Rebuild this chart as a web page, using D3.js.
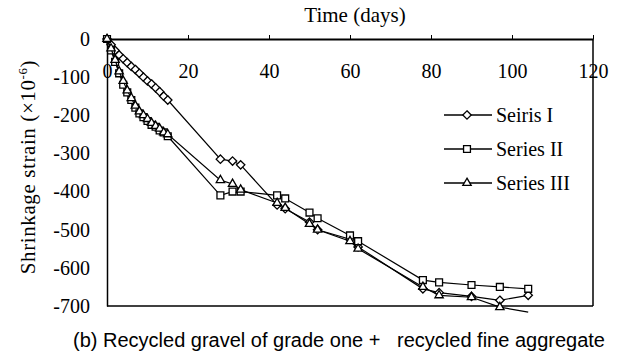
<!DOCTYPE html>
<html>
<head>
<meta charset="utf-8">
<script src="https://cdn.jsdelivr.net/npm/d3@7"></script>
<style>
  body { margin: 0; background: #fff; }
  .axis text { font-family: 'Liberation Serif', 'Times New Roman', serif; font-size: 20px; fill: #000; }
</style>
</head>
<body>
<div id="chart"></div>
<script>
const seriesNames = ['Seiris I', 'Series II', 'Series III'];
const markerTypes = ['diamond', 'square', 'triangle'];

const daysEarly = [0, 1, 2, 3, 4, 5, 6, 7, 8, 9, 10, 11, 12, 13, 14, 15];
const daysLate = [28, 31, 33, 42, 44, 50, 52, 60, 62, 78, 82, 90, 97, 104];

const series1 = [0, -15, -30, -42, -52, -62, -72, -80, -90, -100, -110, -118, -128, -138, -150, -160,
  -315, -320, -330, -435, -445, -480, -500, -525, -545, -655, -665, -675, -685, -672];
const series2 = [0, -30, -60, -90, -120, -140, -160, -180, -195, -205, -215, -225, -230, -240, -245, -255,
  -410, -400, -400, -410, -418, -455, -470, -515, -530, -632, -638, -645, -650, -655];
const series3 = [0, -25, -55, -85, -110, -135, -155, -175, -190, -200, -210, -220, -228, -235, -245, -250,
  -370, -380, -395, -430, -443, -485, -500, -530, -550, -650, -672, -677, -703, -716];

const xTicks = [0, 20, 40, 60, 80, 100, 120];
const yTicks = [0, -100, -200, -300, -400, -500, -600, -700];

const days = daysEarly.concat(daysLate);
const allSeries = [series1, series2, series3];

const dimensions = { width: 623, height: 356, left: 107, right: 593, top: 39, bottom: 306 };

const svg = d3.select('#chart').append('svg').attr('width', dimensions.width).attr('height', dimensions.height);

const xScale = d3.scaleLinear().domain([0, 120]).range([dimensions.left, dimensions.right]);
const yScale = d3.scaleLinear().domain([-700, 0]).range([dimensions.bottom, dimensions.top]);

// frame
svg.append('line').attr('x1', dimensions.right).attr('x2', dimensions.right)
  .attr('y1', dimensions.top).attr('y2', dimensions.bottom).attr('stroke', '#000').attr('stroke-width', 1.5);
svg.append('line').attr('x1', dimensions.left).attr('x2', dimensions.right)
  .attr('y1', dimensions.bottom).attr('y2', dimensions.bottom).attr('stroke', '#000').attr('stroke-width', 1.5);

// y axis
const yAxis = d3.axisLeft(yScale).tickValues(yTicks).tickSize(0).tickPadding(17).tickFormat((d) => d3.format('d')(d).replace('−', '-'));
const yAxisGroup = svg.append('g').attr('transform', `translate(${dimensions.left},0)`).call(yAxis).classed('axis', true);
yAxisGroup.select('.domain').attr('stroke-width', 1.5);

// x axis along the top, labels sit inside the plot
const xAxis = d3.axisTop(xScale).tickValues(xTicks).tickSizeInner(4).tickSizeOuter(0);
const xAxisGroup = svg.append('g').attr('transform', `translate(0,${dimensions.top})`).call(xAxis).classed('axis', true);
xAxisGroup.select('.domain').attr('stroke-width', 2);
xAxisGroup.selectAll('.tick line').attr('stroke-width', 1);
xAxisGroup.selectAll('.tick text').attr('y', 39).attr('dy', 0);

svg.append('text')
  .attr('x', 355).attr('y', 22)
  .attr('text-anchor', 'middle')
  .style('font-family', "'Liberation Serif', serif").style('font-size', '21px')
  .text('Time (days)');

svg.append('text')
  .attr('transform', 'translate(35,167) rotate(-90)')
  .attr('text-anchor', 'middle')
  .style('font-family', "'Liberation Serif', serif").style('font-size', '21px').style('letter-spacing', '0.6px')
  .html('Shrinkage strain (×10<tspan dy="-8" font-size="13">-6</tspan><tspan dy="8">)</tspan>');

svg.append('text')
  .attr('x', 339).attr('y', 347)
  .attr('text-anchor', 'middle')
  .style('font-family', "'Liberation Sans', Arial, sans-serif").style('font-size', '20px')
  .attr('xml:space', 'preserve')
  .text('(b) Recycled gravel of grade one +   recycled fine aggregate');

const markerPath = {
  diamond: d3.symbol().type(d3.symbolDiamond2).size(45),
  square: d3.symbol().type(d3.symbolSquare2).size(60),
  triangle: d3.symbol().type(d3.symbolTriangle2).size(50),
};

const line = d3.line().x((d) => xScale(d[0])).y((d) => yScale(d[1]));

allSeries.forEach((values, i) => {
  const points = days.map((t, j) => [t, values[j]]);
  svg.append('path').datum(points).attr('d', line).attr('fill', 'none').attr('stroke', '#000').attr('stroke-width', 1.2);
  svg.append('g').selectAll('path')
    .data(points.filter((d) => d[1] >= -705))
    .join('path')
    .attr('d', markerPath[markerTypes[i]]())
    .attr('transform', (d) => `translate(${xScale(d[0])},${yScale(d[1])})`)
    .attr('fill', '#fff')
    .attr('stroke', '#000')
    .attr('stroke-width', 1.3);
});

// legend
const legend = svg.append('g');
seriesNames.forEach((name, i) => {
  const y = 115 + i * 34;
  legend.append('line').attr('x1', 444).attr('x2', 492).attr('y1', y).attr('y2', y).attr('stroke', '#000').attr('stroke-width', 1.3);
  legend.append('path').attr('d', markerPath[markerTypes[i]]()).attr('transform', `translate(467,${y})`)
    .attr('fill', '#fff').attr('stroke', '#000').attr('stroke-width', 1.3);
  legend.append('text').attr('x', 496).attr('y', y + 7)
    .style('font-family', "'Liberation Serif', serif").style('font-size', '20px')
    .text(name);
});
</script>
</body>
</html>
